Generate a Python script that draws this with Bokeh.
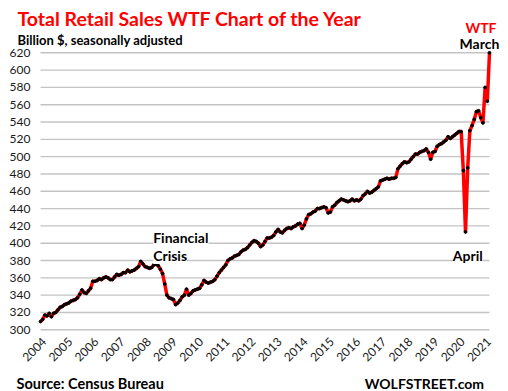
from bokeh.plotting import figure
from bokeh.models import FixedTicker, Label, Range1d
from bokeh.embed import file_html
from bokeh.resources import INLINE

# Monthly total retail sales, billion $, SA, Jan 2004 .. Mar 2021
sales_2004 = [309.5, 312, 317, 316, 319, 315, 319, 320, 323, 326, 327, 329]
sales_2005 = [330, 331, 333, 334, 335, 337, 341, 346, 343, 342, 345, 348]
sales_2006 = [356, 356, 357, 359, 358, 360, 361, 360, 358, 358, 361, 364]
sales_2007 = [363, 364, 366, 366, 369, 367, 368, 369, 371, 373, 379, 376]
sales_2008 = [373, 372, 371, 372, 375, 376, 374, 370, 365, 353, 340, 337]
sales_2009 = [336, 335, 329, 331, 334, 338, 340, 347, 340, 342, 345, 346]
sales_2010 = [347, 348, 352, 357, 355, 354, 355, 356, 358, 362, 366, 369]
sales_2011 = [372, 375, 380, 382, 383, 385, 386, 387, 390, 392, 393, 395]
sales_2012 = [398, 401, 403, 402, 400, 396, 398, 402, 406, 406, 407, 409]
sales_2013 = [413, 416, 413, 412, 415, 417, 418, 417, 419, 420, 422, 423]
sales_2014 = [417, 421, 428, 433, 434, 436, 437, 440, 440, 441, 442, 441]
sales_2015 = [435, 436, 442, 444, 447, 449, 451, 450, 449, 448, 449, 451]
sales_2016 = [449, 450, 449, 451, 455, 457, 460, 458, 459, 461, 463, 465]
sales_2017 = [472, 473, 474, 475, 474, 475, 475, 476, 486, 489, 492, 494]
sales_2018 = [493, 494, 497, 500, 503, 503, 505, 506, 507, 509, 505, 497]
sales_2019 = [505, 506, 512, 514, 515, 517, 519, 523, 521, 523, 525, 527]
sales_2020 = [529, 529, 484, 413, 487, 530, 536, 543, 552, 553, 545, 539]
sales_2021 = [580, 564, 620]

years = [str(y) for y in range(2004, 2022)]
y_ticks = list(range(300, 640, 20))

sales = (sales_2004 + sales_2005 + sales_2006 + sales_2007 + sales_2008 + sales_2009
         + sales_2010 + sales_2011 + sales_2012 + sales_2013 + sales_2014 + sales_2015
         + sales_2016 + sales_2017 + sales_2018 + sales_2019 + sales_2020 + sales_2021)
months = list(range(len(sales)))
last = len(sales) - 1

# frame covers the whole canvas; axes are pinned inside it
p = figure(width=508, height=391, output_backend="svg", toolbar_location=None, title=None,
           x_range=Range1d(-18.35, 214.72), y_range=Range1d(228.72, 680.42),
           min_border=0)
p.outline_line_color = None
p.background_fill_color = "white"
p.border_fill_color = "white"

# horizontal gridlines at the y ticks (thin filled bars), spanning the data period
p.hbar(y=y_ticks, left=0, right=last, height=1.6,
       fill_color="#c4c4c4", line_color=None)

p.line(months, sales, line_color="#ff0000", line_width=3.5)
p.scatter(months, sales, size=2.8, color="black")

FONT = "Lato"
p.xgrid.visible = False
p.ygrid.visible = False

p.yaxis.fixed_location = 0
p.yaxis.ticker = FixedTicker(ticks=y_ticks)
p.yaxis.axis_line_color = None
p.yaxis.major_tick_line_color = None
p.yaxis.minor_tick_line_color = None
p.yaxis.major_tick_out = 0
p.yaxis.major_tick_in = 0
p.yaxis.major_label_text_font = FONT
p.yaxis.major_label_text_font_size = "12px"
p.yaxis.major_label_text_color = "#1a1a1a"
p.yaxis.major_label_standoff = 10

tick_pos = [12 * i + 1.8 for i in range(len(years))]
p.xaxis.fixed_location = 300
p.xaxis.ticker = FixedTicker(ticks=tick_pos)
p.xaxis.major_label_overrides = {t: y for t, y in zip(tick_pos, years)}
p.xaxis.major_label_orientation = 0.785
p.xaxis.axis_line_color = None
p.xaxis.major_tick_line_color = None
p.xaxis.minor_tick_line_color = None
p.xaxis.major_tick_out = 0
p.xaxis.major_tick_in = 0
p.xaxis.major_label_text_font = FONT
p.xaxis.major_label_text_font_size = "12px"
p.xaxis.major_label_text_color = "#1a1a1a"
p.xaxis.major_label_standoff = 10

def lab(x, y, text, size, color="black", bg=None):
    l = Label(x=x, y=y, x_units="screen", y_units="screen", text=text,
              text_font=FONT, text_font_size=size,
              text_font_style="bold", text_color=color, text_baseline="alphabetic",
              text_align="left")
    if bg:
        l.background_fill_color = bg
    p.add_layout(l)

lab(17, 372.7, "Total Retail Sales WTF Chart of the Year", "19.5px", "#ff0000")
lab(17, 352, "Billion $, seasonally adjusted", "13px")
lab(152.7, 154.3, "Financial", "14px", bg="white")
lab(152.7, 136, "Crisis", "14px", bg="white")
lab(452.3, 136, "April", "14px", bg="white")
lab(459, 347.7, "March", "14px")
lab(465, 364.3, "WTF", "14px", "#ff0000")
lab(16, 8, "Source: Census Bureau", "14.5px")
lab(364.3, 8.3, "WOLFSTREET.com", "14px")

open("out.html", "w").write(file_html(p, INLINE))
